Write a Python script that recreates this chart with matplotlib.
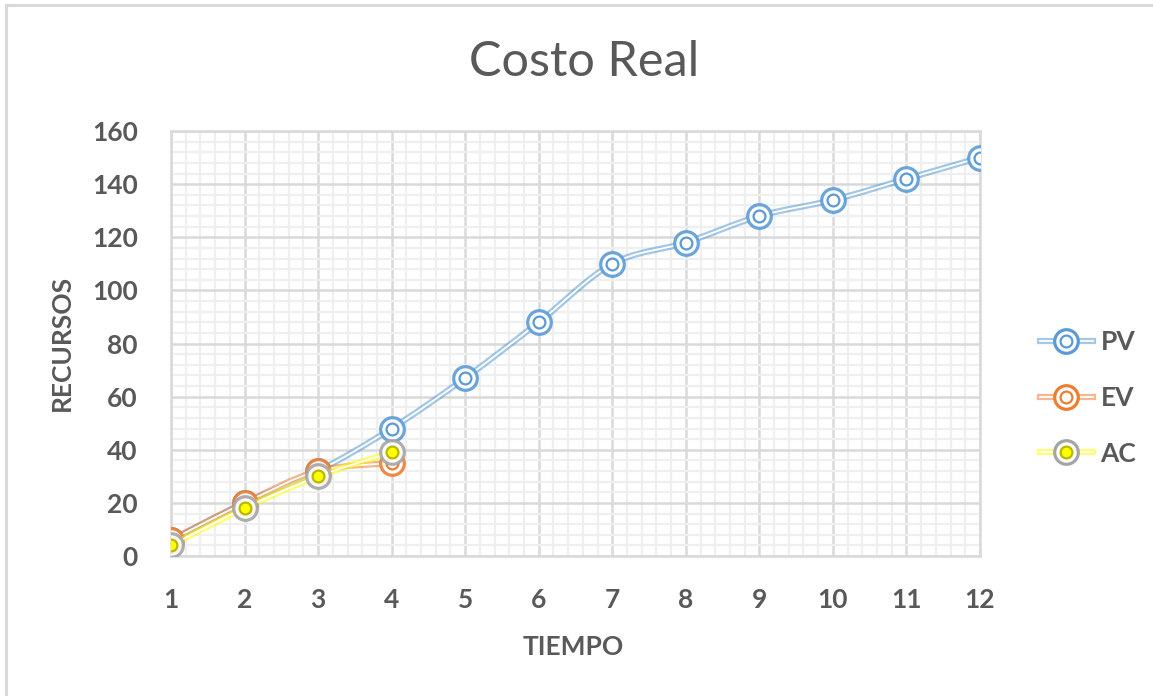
import numpy as np
import matplotlib
matplotlib.use('Agg')
import matplotlib.pyplot as plt
from matplotlib.path import Path
from matplotlib.patches import PathPatch
from matplotlib.lines import Line2D
from matplotlib.ticker import MultipleLocator
from matplotlib.legend_handler import HandlerTuple

# data
tiempo = [1, 2, 3, 4, 5, 6, 7, 8, 9, 10, 11, 12]
pv = [6, 20, 32, 48, 67, 88, 110, 118, 128, 134, 142, 150]
ev = [6, 20, 32, 35]
ac = [4, 18, 30, 39]

gray_txt = '#595959'
c_pv = '#5b9bd5'
c_ev = '#ed7d31'
c_ac = '#ffff00'
c_ac_ring = '#a5a5a5'

plt.rcParams['font.family'] = ['Lato', 'DejaVu Sans']


def smooth_path(x, y):
    # excel-style smoothed line: catmull-rom segments as cubic beziers
    pts = np.column_stack([x, y]).astype(float)
    verts = [pts[0]]
    codes = [Path.MOVETO]
    n = len(pts)
    for i in range(n - 1):
        p0 = pts[i - 1] if i > 0 else pts[i]
        p1 = pts[i]
        p2 = pts[i + 1]
        p3 = pts[i + 2] if i + 2 < n else pts[i + 1]
        verts += [p1 + (p2 - p0) / 6, p2 - (p3 - p1) / 6, p2]
        codes += [Path.CURVE4] * 3
    return Path(verts, codes)


fig = plt.figure(figsize=(11.53, 6.96), dpi=100)
ax = fig.add_axes([171 / 1153, 1 - 556 / 696, 809 / 1153, 425 / 696])

ax.set_xlim(1, 12)
ax.set_ylim(0, 160)
ax.xaxis.set_major_locator(MultipleLocator(1))
ax.xaxis.set_minor_locator(MultipleLocator(0.2))
ax.yaxis.set_major_locator(MultipleLocator(20))
ax.yaxis.set_minor_locator(MultipleLocator(4))
ax.grid(which='minor', color='#efefef', lw=1.6, zorder=0)
ax.grid(which='major', color='#d9d9d9', lw=1.8, zorder=0)
ax.set_axisbelow(True)
for s in ax.spines.values():
    s.set_color('#d9d9d9')
    s.set_linewidth(1.8)
ax.tick_params(which='both', length=0)
ax.tick_params(axis='y', pad=24)
ax.tick_params(axis='x', pad=23)
for lab in ax.get_xticklabels() + ax.get_yticklabels():
    lab.set_fontsize(19)
    lab.set_fontweight('bold')
    lab.set_color(gray_txt)

ms_out, ms_in = 17, 8.5
series = [(pv, c_pv, c_pv, 'white', c_pv),
          (ev, c_ev, c_ev, 'white', c_ev),
          (ac, c_ac, c_ac_ring, c_ac, '#b8b800')]
handles = []
for k, (vals, lc, ring, inner_fc, inner_ec) in enumerate(series):
    xs = tiempo[:len(vals)]
    path = smooth_path(xs, vals)
    ax.add_patch(PathPatch(path, fc='none', ec=lc, lw=4.5, alpha=0.55, zorder=3 + k))
    ax.add_patch(PathPatch(path, fc='none', ec='white', lw=1.3, zorder=3 + k))
    ax.plot(xs, vals, ls='none', marker='o', ms=ms_out, mfc='white', mec=ring,
            mew=2.3, alpha=0.9, zorder=3 + k)
    ax.plot(xs, vals, ls='none', marker='o', ms=ms_in, mfc=inner_fc, mec=inner_ec,
            mew=1.6, zorder=3 + k)
    h1 = Line2D([], [], color=lc, lw=4.5, alpha=0.55)
    h2 = Line2D([], [], color='white', lw=1.3)
    h3 = Line2D([], [], ls='none', marker='o', ms=ms_out, mfc='white', mec=ring, mew=2.3)
    h4 = Line2D([], [], ls='none', marker='o', ms=ms_in, mfc=inner_fc, mec=inner_ec, mew=1.6)
    handles.append((h1, h2, h3, h4))

leg = fig.legend(handles, ['PV', 'EV', 'AC'], handler_map={tuple: HandlerTuple(ndivide=1, pad=0)},
                 loc='center left', bbox_to_anchor=(1016 / 1153, 1 - 398 / 696),
                 frameon=False, handlelength=2.0, labelspacing=1.2, handletextpad=0.3,
                 prop={'size': 19, 'weight': 'bold'})
for t in leg.get_texts():
    t.set_color(gray_txt)

ax.set_xlabel('TIEMPO', fontsize=19, fontweight='bold', color=gray_txt)
ax.set_ylabel('RECURSOS', fontsize=19, fontweight='bold', color=gray_txt)
ax.xaxis.set_label_coords((573 - 171) / 809, (556 - 647) / 425)
ax.yaxis.set_label_coords((62 - 171) / 809, (556 - 343) / 425)
ax.xaxis.label.set_va('center')
ax.yaxis.label.set_va('center')

fig.text(584 / 1153, 1 - 62 / 696, 'Costo Real', fontsize=35, color=gray_txt,
         ha='center', va='center')

# outer chart border (top and left visible)
fig.add_artist(Line2D([6 / 1153, 6 / 1153], [0, 1 - 5 / 696], color='#d9d9d9', lw=2.2))
fig.add_artist(Line2D([6 / 1153, 1], [1 - 5 / 696, 1 - 5 / 696], color='#d9d9d9', lw=2.2))

fig.savefig('out.png', dpi=100)
